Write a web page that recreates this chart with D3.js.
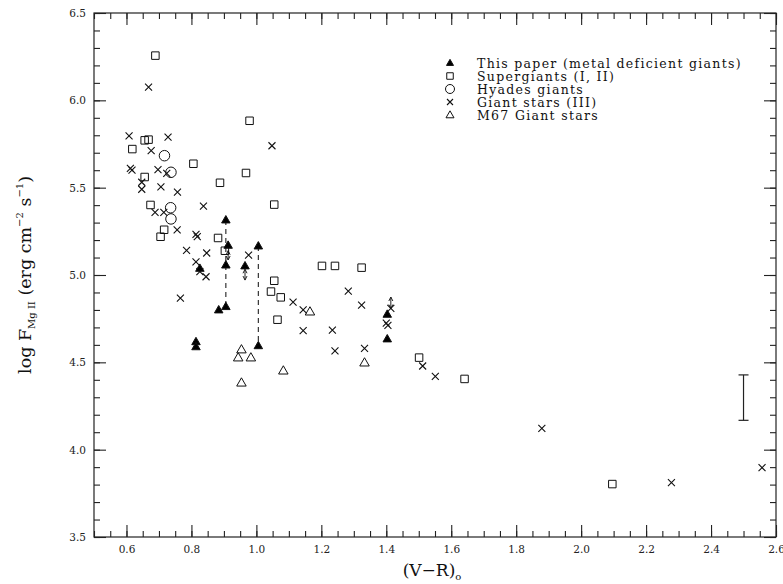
<!DOCTYPE html>
<html>
<head>
<meta charset="utf-8">
<script src="https://d3js.org/d3.v7.min.js"></script>
<style>
body { margin:0; background:#fff; }
text { font-family: "DejaVu Serif", serif; }
</style>
</head>
<body>
<svg width="783" height="584"></svg>
<script>
// (V-R)o, log F
var thisPaper = [[0.906,5.315],[0.913,5.170],[0.906,5.057],[0.884,4.800],[0.906,4.819],
  [0.965,5.052],[1.006,5.166],[1.006,4.595],[0.826,5.038],[0.814,4.618],[0.814,4.589],
  [1.403,4.775],[1.403,4.634]];
var supergiants = [[0.689,6.256],[0.979,5.883],[0.656,5.771],[0.668,5.775],[0.618,5.721],
  [0.806,5.637],[0.968,5.584],[0.656,5.561],[0.888,5.528],[0.674,5.401],[1.055,5.403],
  [0.716,5.259],[0.705,5.219],[0.882,5.212],[0.903,5.139],[1.055,4.967],[1.045,4.905],
  [1.075,4.872],[1.065,4.744],[1.202,5.052],[1.242,5.052],[1.324,5.042],[1.501,4.527],
  [1.641,4.405],[2.096,3.803]];
var hyades = [[0.717,5.683],[0.737,5.588],[0.736,5.385],[0.737,5.321]];
var giants = [[0.668,6.075],[0.608,5.796],[0.728,5.789],[1.048,5.740],[0.676,5.712],
  [0.612,5.610],[0.617,5.600],[0.697,5.603],[0.724,5.582],[0.647,5.531],[0.647,5.491],
  [0.706,5.504],[0.757,5.475],[0.688,5.358],[0.715,5.359],[0.837,5.394],[0.756,5.258],
  [0.814,5.232],[0.818,5.220],[0.785,5.141],[0.847,5.126],[0.814,5.075],[0.826,5.019],
  [0.845,4.990],[0.976,5.114],[0.766,4.867],[1.113,4.845],[1.144,4.800],[1.144,4.681],
  [1.234,4.685],[1.242,4.566],[1.283,4.908],[1.324,4.828],[1.414,4.809],[1.400,4.725],
  [1.405,4.712],[1.333,4.580],[1.512,4.479],[1.551,4.420],[1.879,4.122],[2.278,3.811],
  [2.557,3.897]];
var m67 = [[1.165,4.790],[0.954,4.573],[0.944,4.527],[0.983,4.527],[1.083,4.452],
  [0.954,4.383],[1.333,4.498]];
// dashed connectors and double arrows (x, y top, y bottom)
var dashLines = [[0.906,5.315,4.819],[1.006,5.166,4.595]];
var arrows = [[0.913,5.139,5.086],[0.965,5.033,4.971],[1.414,4.874,4.808]];
var errorBar = [2.50,4.428,4.168];

var xMajor = [0.6,0.8,1.0,1.2,1.4,1.6,1.8,2.0,2.2,2.4,2.6];
var xMinor = d3.range(0.5,2.6001,0.05).map(function(d){ return +d.toFixed(2); });
var yMajor = [3.5,4.0,4.5,5.0,5.5,6.0,6.5];
var yMinor = d3.range(3.5,6.5001,0.1).map(function(d){ return +d.toFixed(1); });

var legendNames = ["This paper (metal deficient giants)","Supergiants (I, II)","Hyades giants",
  "Giant stars (III)","M67 Giant stars"];
var legendKinds = ["tri","sq","circ","x","otri"];

var svg = d3.select("svg");
var pL = 94, pR = 776, pT = 13, pB = 537;
var x = d3.scaleLinear().domain([0.5,2.6]).range([pL,pR]);
var y = d3.scaleLinear().domain([3.5,6.5]).range([pB,pT]);

function shape(kind, s) {
  if (kind == "sq") return "M"+(-s/2)+","+(-s/2)+"h"+s+"v"+s+"h"+(-s)+"Z";
  if (kind == "x") return "M"+(-s/2)+","+(-s/2)+"L"+(s/2)+","+(s/2)+"M"+(s/2)+","+(-s/2)+"L"+(-s/2)+","+(s/2);
  if (kind == "tri" || kind == "otri") { var h = s*0.87; return "M0,"+(-h*0.6)+"L"+(s/2)+","+(h*0.4)+"L"+(-s/2)+","+(h*0.4)+"Z"; }
  if (kind == "circ") return d3.symbol(d3.symbolCircle, Math.PI*s*s/4)();
}
function styleMark(sel, kind) {
  sel.attr("fill", kind == "tri" ? "#000" : "none")
     .attr("stroke", "#111")
     .attr("stroke-width", kind == "x" ? 1.1 : 1);
}

// axes
function axis(gen, tr, vals, size, fmt) {
  var g = svg.append("g").attr("transform", tr)
    .call(gen.tickValues(vals).tickSize(size).tickPadding(9).tickFormat(fmt));
  g.select(".domain").remove();
  g.selectAll("line").attr("stroke","#222").attr("stroke-width",1.1);
  g.selectAll("text").attr("font-family","DejaVu Serif").attr("font-size",10.5).attr("fill","#222");
  return g;
}
var f1 = d3.format(".1f"), none = function(){ return ""; };
axis(d3.axisBottom(x), "translate(0,"+pB+")", xMinor, -6, none);
axis(d3.axisBottom(x), "translate(0,"+pB+")", xMajor, -12, f1);
axis(d3.axisTop(x), "translate(0,"+pT+")", xMinor, -6, none);
axis(d3.axisTop(x), "translate(0,"+pT+")", xMajor, -12, none);
axis(d3.axisLeft(y), "translate("+pL+",0)", yMinor, -6, none);
axis(d3.axisLeft(y), "translate("+pL+",0)", yMajor, -12, f1).selectAll("text").attr("x",-8);
axis(d3.axisRight(y), "translate("+pR+",0)", yMinor, -6, none);
axis(d3.axisRight(y), "translate("+pR+",0)", yMajor, -12, none);
svg.append("rect").attr("x",pL).attr("y",pT).attr("width",pR-pL).attr("height",pB-pT)
  .attr("fill","none").attr("stroke","#222").attr("stroke-width",1.2);

// dashed connectors
svg.selectAll(".dash").data(dashLines).enter().append("line")
  .attr("x1", function(d){ return x(d[0]); }).attr("x2", function(d){ return x(d[0]); })
  .attr("y1", function(d){ return y(d[1]); }).attr("y2", function(d){ return y(d[2]); })
  .attr("stroke","#222").attr("stroke-width",1.1).attr("stroke-dasharray","5,4");

// double arrows
var defs = svg.append("defs");
defs.append("marker").attr("id","ah").attr("viewBox","0 0 10 10").attr("refX",9).attr("refY",5)
  .attr("markerUnits","userSpaceOnUse").attr("markerWidth",5).attr("markerHeight",6)
  .attr("orient","auto-start-reverse")
  .append("path").attr("d","M1,1L9,5L1,9").attr("fill","none").attr("stroke","#222").attr("stroke-width",2);
svg.selectAll(".arr").data(arrows).enter().append("line")
  .attr("x1", function(d){ return x(d[0]); }).attr("x2", function(d){ return x(d[0]); })
  .attr("y1", function(d){ return y(d[1]); }).attr("y2", function(d){ return y(d[2]); })
  .attr("stroke","#222").attr("stroke-width",1)
  .attr("marker-start","url(#ah)").attr("marker-end","url(#ah)");

// error bar
var eb = svg.append("g").attr("stroke","#222").attr("stroke-width",1.2);
eb.append("line").attr("x1",x(errorBar[0])).attr("x2",x(errorBar[0])).attr("y1",y(errorBar[1])).attr("y2",y(errorBar[2]));
[errorBar[1],errorBar[2]].forEach(function(v){
  eb.append("line").attr("x1",x(errorBar[0])-5).attr("x2",x(errorBar[0])+5).attr("y1",y(v)).attr("y2",y(v));
});

// points
function plot(data, kind, size) {
  svg.append("g").selectAll("path").data(data).enter().append("path")
    .attr("transform", function(d){ return "translate("+x(d[0])+","+y(d[1])+")"; })
    .attr("d", shape(kind, size))
    .call(styleMark, kind);
}
plot(supergiants, "sq", 7.5);
plot(hyades, "circ", 10.5);
plot(giants, "x", 7);
plot(m67, "otri", 9.5);
plot(thisPaper, "tri", 8.5);

// legend
var lg = svg.append("g");
var sizes = {tri:7, sq:6.5, circ:9, x:6, otri:8};
legendNames.forEach(function(name, i){
  var cy = 63 + i*13;
  lg.append("path").attr("transform","translate(450,"+cy+")").attr("d", shape(legendKinds[i], sizes[legendKinds[i]]))
    .call(styleMark, legendKinds[i]);
  lg.append("text").attr("x",477).attr("y",cy+4.5).attr("font-size",12.5)
    .attr("letter-spacing",1.3).attr("fill","#111").text(name);
});

// axis titles
var xt = svg.append("text").attr("x", 432).attr("y", 576).attr("text-anchor","middle")
  .attr("font-size",17).attr("fill","#111");
xt.append("tspan").text("(V\u2212R)");
xt.append("tspan").attr("font-size",10).attr("dy",4).text("o");

var yt = svg.append("text").attr("transform","translate(31,"+((pT+pB)/2)+") rotate(-90)")
  .attr("text-anchor","middle").attr("font-size",17.5).attr("fill","#111");
yt.append("tspan").text("log F");
yt.append("tspan").attr("font-size",10).attr("dy",4).text("Mg II");
yt.append("tspan").attr("dy",-4).text(" (erg cm");
yt.append("tspan").attr("font-size",10).attr("dy",-8).text("\u22122");
yt.append("tspan").attr("dy",8).text(" s");
yt.append("tspan").attr("font-size",10).attr("dy",-8).text("\u22121");
yt.append("tspan").attr("dy",8).text(")");
</script>
</body>
</html>
